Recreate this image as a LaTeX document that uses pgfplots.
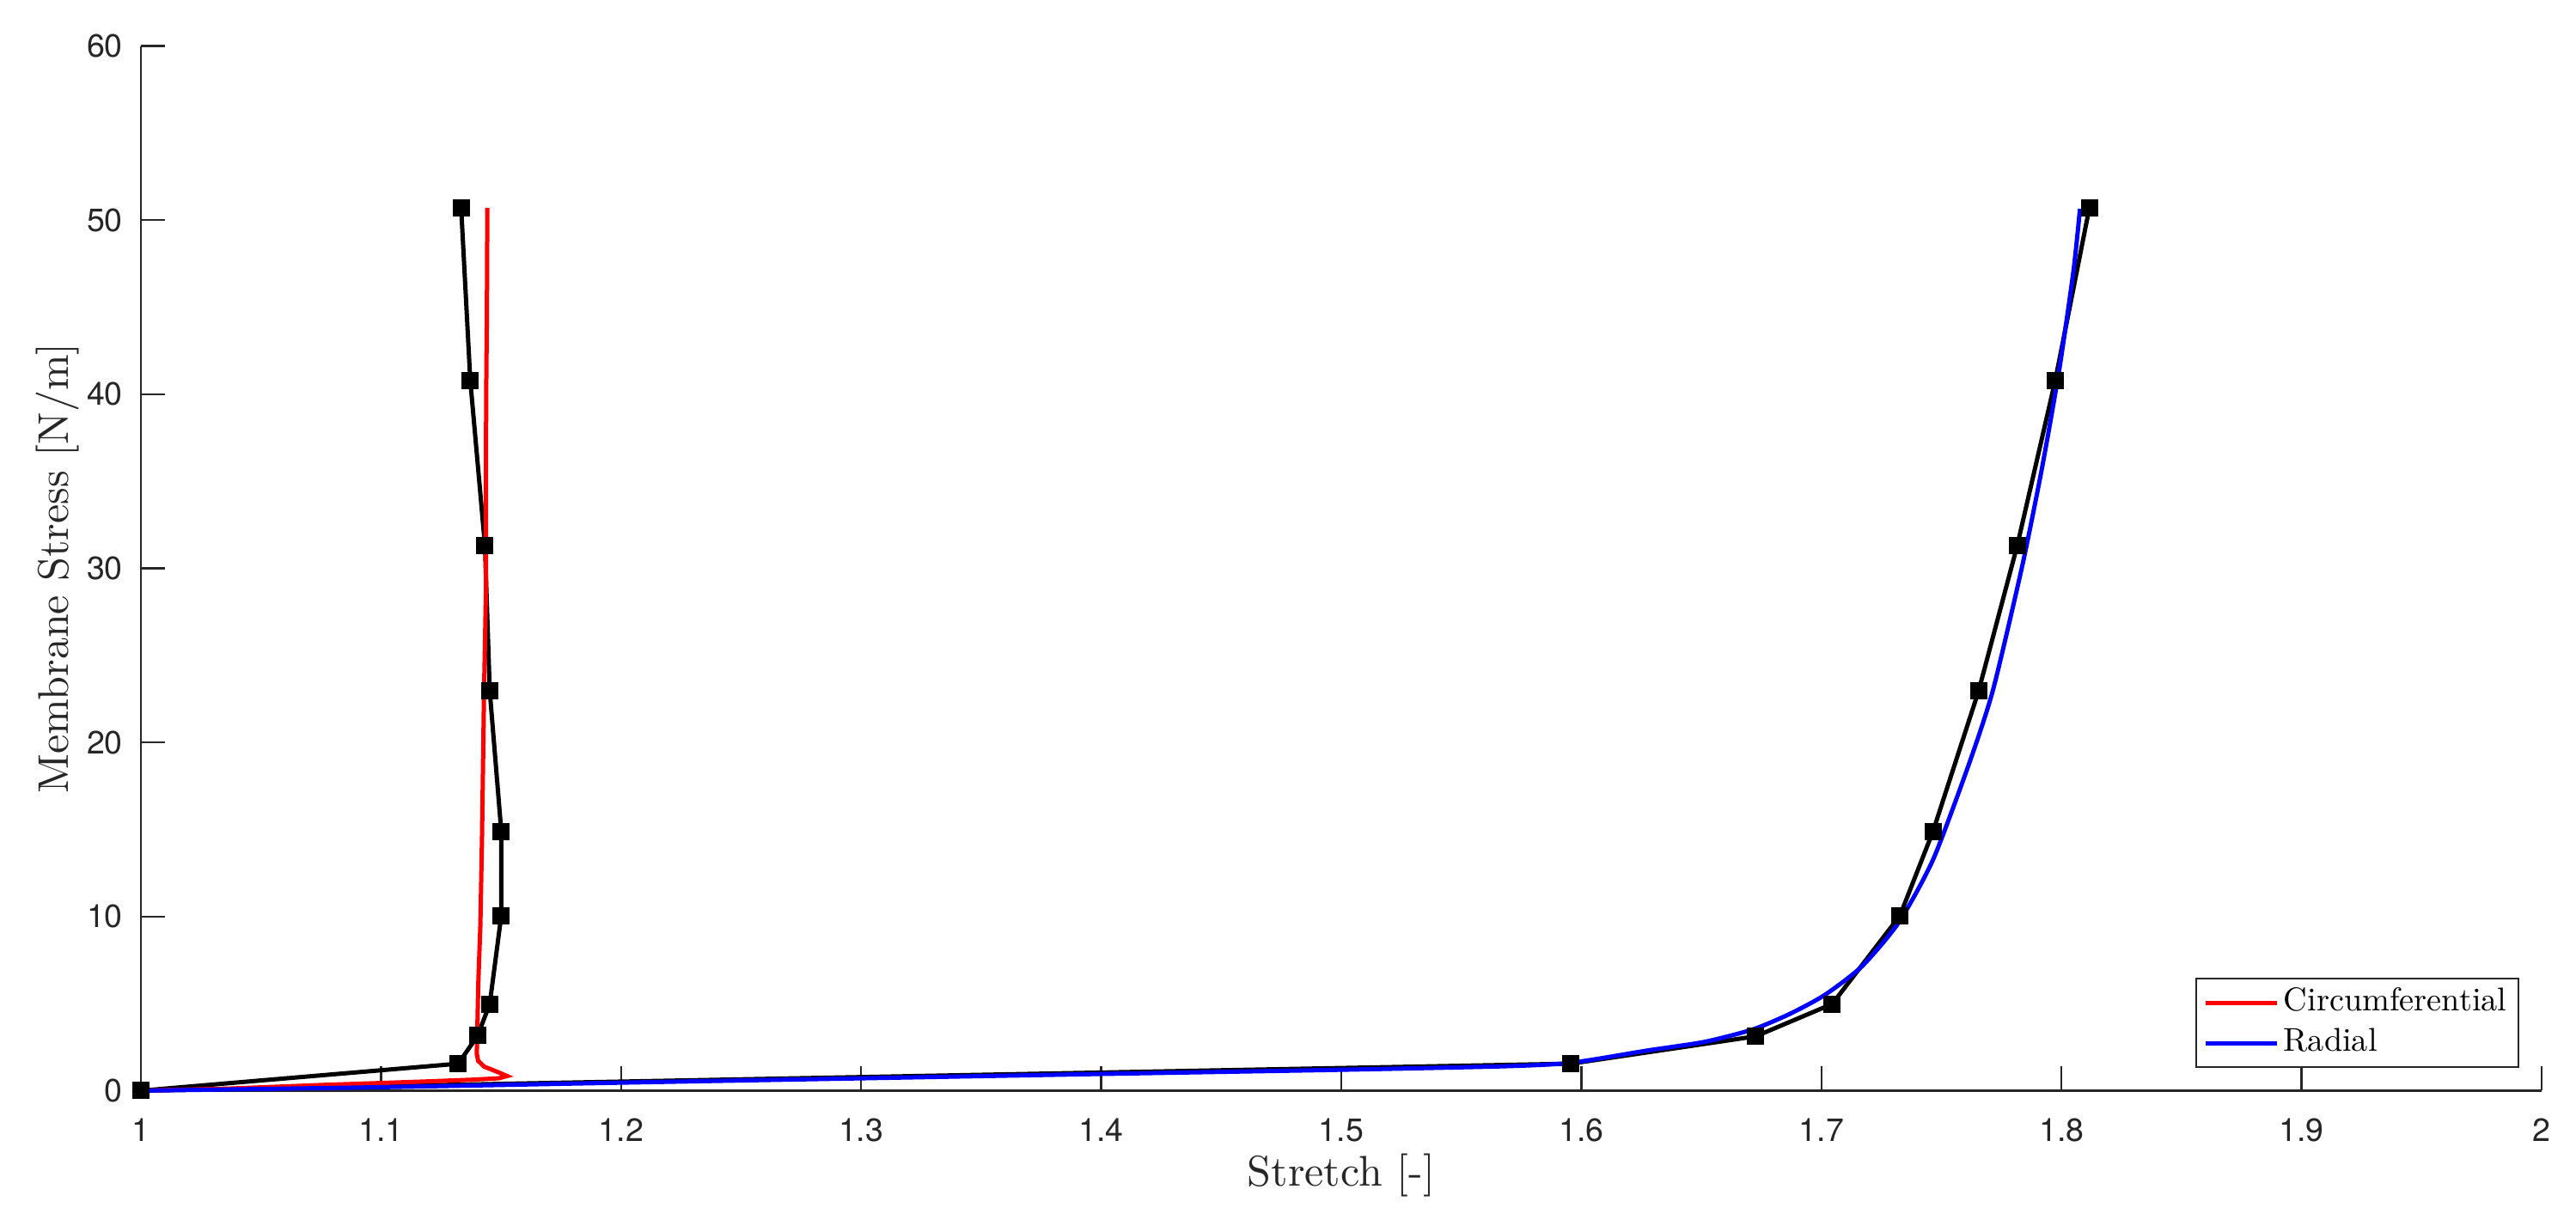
\documentclass[border=0pt]{standalone}
\usepackage{fontspec}
\usepackage{pgfplots}
\pgfplotsset{compat=1.18}
\usetikzlibrary{calc}
\newfontfamily\heros{TeX Gyre Heros}
\newfontfamily\lmten{lmroman10-regular.otf}
\definecolor{axgray}{RGB}{38,38,38}

\begin{document}
\begin{tikzpicture}
\begin{axis}[
  scale only axis,
  width=558.8pt, height=243.2pt,
  xmin=1, xmax=2, ymin=0, ymax=60,
  xtick={1,1.1,1.2,1.3,1.4,1.5,1.6,1.7,1.8,1.9,2},
  ytick={0,10,20,30,40,50,60},
  axis lines*=left,
  axis line style={axgray, line width=0.5pt},
  tick align=inside,
  major tick length=5.6pt,
  every tick/.style={axgray, line width=0.5pt},
  /pgf/number format/assume math mode=true,
  tick label style={font=\heros\fontsize{7.5}{9}\selectfont, text=axgray},
  xticklabel style={yshift=-2.9pt},
  yticklabel style={xshift=-0.7pt},
  xlabel={Stretch [-]},
  ylabel={Membrane Stress [N/m]},
  label style={font=\fontsize{10}{12}\selectfont, inner sep=0pt, text=axgray},
  xlabel style={at={(axis description cs:0.5,-0.060)}, anchor=north},
  ylabel style={at={(axis description cs:-0.0254,0.5)}, anchor=south},
  legend style={at={(axis description cs:1,0)}, anchor=south east,
    xshift=-5.2pt, yshift=5.2pt, draw=axgray, line width=0.4pt,
    font=\lmten\fontsize{7.66}{9}\selectfont, inner xsep=1.7pt, inner ysep=1.2pt,
    row sep=0.6pt,
    nodes={inner sep=1pt, text height=5.2pt, text depth=1.6pt}},
  legend cell align=left,
  legend image code/.code={\draw[#1] (0pt,0pt) -- (16.7pt,0pt);},
  clip=false,
]
% experimental points, left branch
\addplot[black, line width=1pt, mark=square*, mark size=1.5pt, forget plot] coordinates {
(1,0) (1.1322,1.55) (1.1403,3.17) (1.1453,4.98) (1.1501,10.05) (1.1501,14.90)
(1.1453,22.97) (1.1433,31.33) (1.1372,40.79) (1.1334,50.70)};
% experimental points, right branch
\addplot[black, line width=1pt, mark=square*, mark size=1.5pt, forget plot] coordinates {
(1,0) (1.5956,1.55) (1.6726,3.12) (1.7045,4.98) (1.7327,10.05) (1.7465,14.90)
(1.7655,22.97) (1.7816,31.33) (1.7974,40.79) (1.8116,50.70)};
% model
\addplot[red, line width=1pt] coordinates {
(1,0) (1.037,0.12) (1.076,0.33) (1.1,0.44) (1.119,0.53) (1.138,0.63) (1.149,0.71) (1.1525,0.84)
(1.149,1.05) (1.143,1.38) (1.1405,1.71) (1.1399,2.12) (1.1402,4) (1.1405,6.05)
(1.1414,9.5) (1.1421,14.7) (1.1429,22.7) (1.1437,28.5) (1.1438,39.6) (1.1441,44.5)
(1.1443,50.7)};
\addplot[blue, line width=1pt, smooth, tension=0.4] coordinates {
(1,0) (1.1,0.2) (1.2,0.46) (1.3,0.71) (1.4,0.96) (1.5,1.2) (1.5676,1.4) (1.5956,1.6)
(1.6272,2.3) (1.6512,2.8) (1.6715,3.52) (1.687,4.42) (1.7013,5.49) (1.7168,7.13)
(1.7323,9.68) (1.7466,13.3) (1.7615,18.78) (1.7715,23.03) (1.7836,30.11)
(1.7919,35.78) (1.7991,41.44) (1.805,47.1) (1.8077,50.65)};
\legend{Circumferential, Radial}
\end{axis}
\pgfresetboundingbox
\path[use as bounding box] ($(current axis.south west)+(-32.8pt,-31.4pt)$) rectangle ($(current axis.north east)+(8pt,10.7pt)$);
\end{tikzpicture}
\end{document}
